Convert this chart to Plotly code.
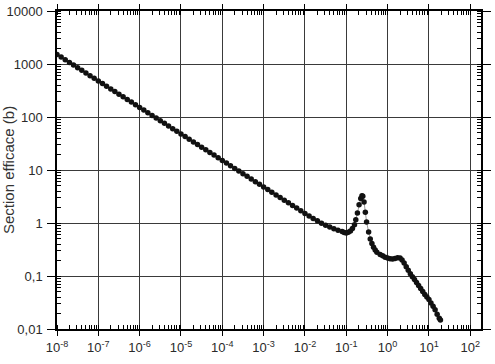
import plotly.graph_objects as go

# Energy (x) and cross section (y)
energy = [
    1.0e-8, 1.26e-8, 1.58e-8, 2.0e-8, 2.51e-8, 3.16e-8, 3.98e-8, 5.01e-8, 6.31e-8, 7.94e-8,
    1.0e-7, 1.26e-7, 1.58e-7, 2.0e-7, 2.51e-7, 3.16e-7, 3.98e-7, 5.01e-7, 6.31e-7, 7.94e-7,
    1.0e-6, 1.26e-6, 1.58e-6, 2.0e-6, 2.51e-6, 3.16e-6, 3.98e-6, 5.01e-6, 6.31e-6, 7.94e-6,
    1.0e-5, 1.26e-5, 1.58e-5, 2.0e-5, 2.51e-5, 3.16e-5, 3.98e-5, 5.01e-5, 6.31e-5, 7.94e-5,
    1.0e-4, 1.26e-4, 1.58e-4, 2.0e-4, 2.51e-4, 3.16e-4, 3.98e-4, 5.01e-4, 6.31e-4, 7.94e-4,
    1.0e-3, 1.26e-3, 1.58e-3, 2.0e-3, 2.51e-3, 3.16e-3, 3.98e-3, 5.01e-3, 6.31e-3, 7.94e-3,
    1.0e-2, 1.26e-2, 1.58e-2, 2.0e-2, 2.51e-2, 3.16e-2, 3.98e-2, 5.01e-2, 6.31e-2, 7.94e-2,
    0.089, 0.1, 0.112, 0.126, 0.141, 0.158, 0.17, 0.186, 0.204, 0.224, 0.24, 0.251,
    0.269, 0.289, 0.31, 0.347, 0.38, 0.417, 0.457, 0.501, 0.55, 0.66, 0.76, 0.87,
    1.0, 1.15, 1.32, 1.51, 1.74, 2.0, 2.24, 2.51, 2.82, 3.16, 3.55, 3.98, 4.47,
    5.01, 5.62, 6.31, 7.08, 7.94, 8.91, 10.0, 11.2, 12.6, 14.1, 15.8, 17.8, 19.0,
]
cross_section = [
    1514, 1349, 1202, 1072, 955, 851, 759, 676, 603, 537,
    479, 427, 380, 339, 302, 269, 240, 214, 191, 170,
    151, 135, 120, 107, 95.5, 85.1, 75.9, 67.6, 60.3, 53.7,
    47.9, 42.7, 38.0, 33.9, 30.2, 26.9, 24.0, 21.4, 19.1, 17.0,
    15.1, 13.5, 12.0, 10.7, 9.55, 8.51, 7.59, 6.76, 6.03, 5.37,
    4.79, 4.27, 3.80, 3.39, 3.02, 2.69, 2.40, 2.14, 1.91, 1.70,
    1.51, 1.36, 1.22, 1.10, 0.99, 0.91, 0.84, 0.78, 0.73, 0.69,
    0.66, 0.65, 0.67, 0.71, 0.79, 0.93, 1.15, 1.55, 2.2, 2.9, 3.25, 3.2,
    2.5, 1.6, 1.05, 0.68, 0.5, 0.41, 0.35, 0.31, 0.28, 0.255, 0.24, 0.225,
    0.218, 0.212, 0.21, 0.213, 0.22, 0.218, 0.2, 0.175, 0.15, 0.128, 0.11, 0.097, 0.086,
    0.075, 0.066, 0.058, 0.051, 0.045, 0.04, 0.036, 0.031, 0.027, 0.023, 0.019, 0.016, 0.0148,
]

x_tick_vals = [1e-8, 1e-7, 1e-6, 1e-5, 1e-4, 1e-3, 1e-2, 1e-1, 1e0, 1e1, 1e2]
x_tick_text = ["10<sup>-8</sup>", "10<sup>-7</sup>", "10<sup>-6</sup>", "10<sup>-5</sup>",
               "10<sup>-4</sup>", "10<sup>-3</sup>", "10<sup>-2</sup>", "10<sup>-1</sup>",
               "10<sup>0</sup>", "10<sup>1</sup>", "10<sup>2</sup>"]
y_tick_vals = [0.01, 0.1, 1, 10, 100, 1000, 10000]
y_tick_text = ["0,01", "0,1", "1", "10", "100", "1000", "10000"]
y_title = "Section efficace (b)"

FONT = "Arial, 'Liberation Sans', sans-serif"

fig = go.Figure()
fig.add_trace(go.Scatter(
    x=energy, y=cross_section, mode="lines+markers",
    line=dict(color="#808080", width=0.8),
    marker=dict(color="#111111", size=5.5, line=dict(width=0)),
    showlegend=False,
))

def axis_common(major_len):
    return dict(
        type="log",
        showline=True, linecolor="black", linewidth=1.5,
        mirror="allticks",
        ticks="outside", ticklen=major_len, tickwidth=1.2, tickcolor="black",
        showgrid=True, gridcolor="#3a3a3a", gridwidth=1,
        zeroline=False,
        minor=dict(ticks="inside", ticklen=4, tickwidth=1, tickcolor="black",
                   dtick="D1", showgrid=False),
    )

fig.update_xaxes(
    **axis_common(5),
    range=[-8, 2.26],
    tickvals=x_tick_vals, ticktext=x_tick_text,
    tickfont=dict(family=FONT, size=13, color="#2a2a2a"),
    ticklabelstandoff=1,
)
fig.update_yaxes(
    **axis_common(8),
    range=[-2, 4],
    tickvals=y_tick_vals, ticktext=y_tick_text,
    tickfont=dict(family=FONT, size=13, color="#2a2a2a"),
    ticklabelstandoff=2,
)

fig.add_annotation(
    text=y_title, textangle=-90, showarrow=False,
    xref="paper", yref="paper", x=0, y=0.5,
    xanchor="center", yanchor="middle", xshift=-49,
    font=dict(family=FONT, size=15, color="#333333"),
)

fig.update_layout(
    width=495, height=364,
    margin=dict(l=57, r=4, t=6, b=35),
    paper_bgcolor="white", plot_bgcolor="white",
)

fig.write_html("out.html")
